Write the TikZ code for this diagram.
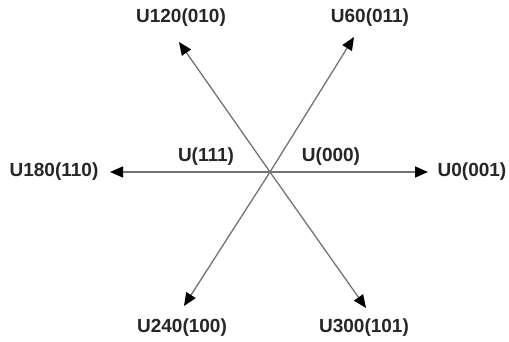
\documentclass[tikz,border=0pt]{standalone}
\usepackage{fontspec}
\setmainfont{Liberation Sans}
\usetikzlibrary{arrows.meta}
\begin{document}
\begin{tikzpicture}[x=1pt,y=-1pt,
  vec/.style={draw=black!55,line width=1.3pt,-{Triangle[black,length=13pt,width=11pt]}},
  lbl/.style={font=\fontsize{19}{22}\selectfont\bfseries,text=black!85,inner sep=0pt}]
\useasboundingbox (0,0) rectangle (509,342);
\coordinate (c) at (270,172);
\coordinate (t0) at (428,172);
\coordinate (t60) at (354,37);
\coordinate (t120) at (179,42);
\coordinate (t180) at (110,172);
\coordinate (t240) at (184,306);
\coordinate (t300) at (366,308);
\draw[vec] (c) -- (t0);
\draw[vec] (c) -- (t60);
\draw[vec] (c) -- (t120);
\draw[vec] (c) -- (t180);
\draw[vec] (c) -- (t240);
\draw[vec] (c) -- (t300);
\node[lbl] (l0) at (472,172) {U0(001)};
\node[lbl] (l60) at (370,18) {U60(011)};
\node[lbl] (l120) at (181,18) {U120(010)};
\node[lbl] (l180) at (54,172) {U180(110)};
\node[lbl] (l240) at (182,328) {U240(100)};
\node[lbl] (l300) at (364,328) {U300(101)};
\node[lbl] (u111) at (206,157) {U(111)};
\node[lbl] (u000) at (331,157) {U(000)};
\end{tikzpicture}
\end{document}
